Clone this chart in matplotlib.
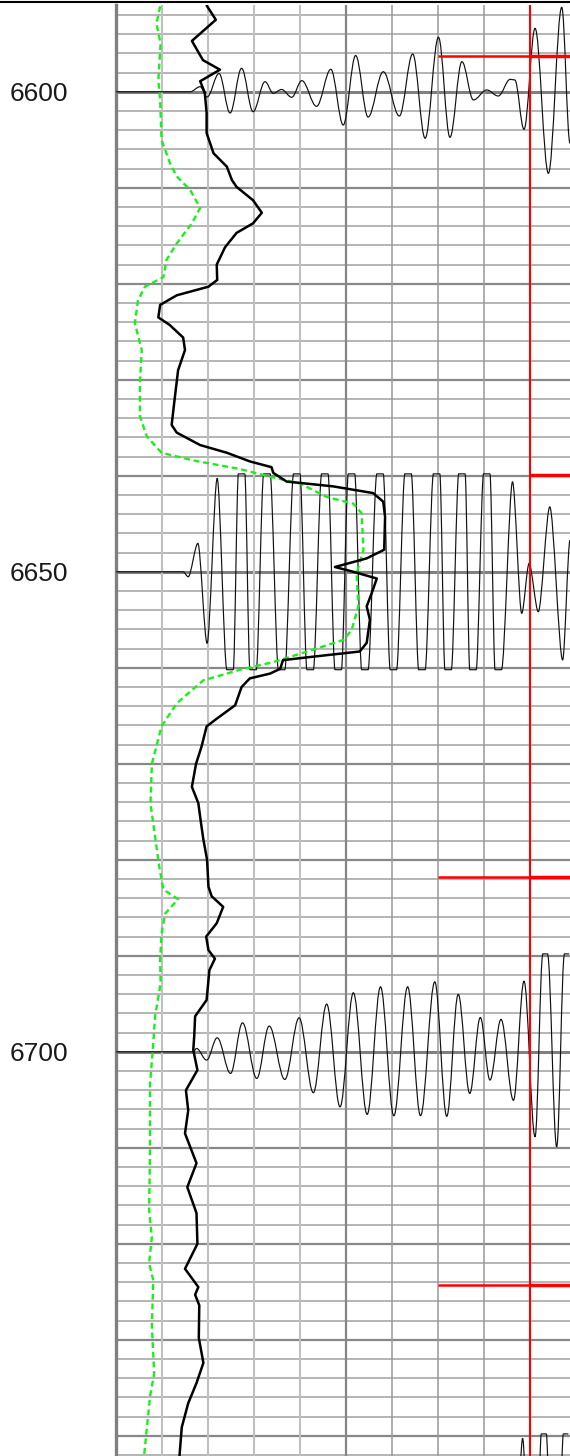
import numpy as np
import matplotlib
matplotlib.use("Agg")
import matplotlib.pyplot as plt
from matplotlib.path import Path
from matplotlib.patches import PathPatch
from matplotlib.lines import Line2D
import matplotlib.transforms as mtransforms

# ---------------- data ----------------
# thick black log curve (depth, value in track divisions)
black_depth = [6591.0, 6592.5, 6594.7, 6596.7, 6597.7, 6598.9, 6600.1, 6602.2, 6604.3, 6606.4,
               6607.8, 6609.2, 6609.9, 6611.3, 6612.6, 6613.7, 6614.7, 6616.2, 6618.0, 6619.6,
               6620.3, 6621.2, 6622.2, 6623.5, 6624.3, 6625.6, 6626.9, 6629.0, 6631.8, 6634.7,
               6635.5, 6636.8, 6637.6, 6638.5, 6639.1, 6639.7, 6640.6, 6641.1, 6641.8, 6642.7,
               6644.3, 6647.7, 6648.6, 6649.5, 6650.0, 6650.7, 6652.2, 6653.6, 6655.0, 6657.4,
               6658.3, 6658.8, 6659.2, 6660.1, 6660.6, 6661.1, 6662.0, 6663.9, 6665.3, 6666.1,
               6668.2, 6670.0, 6672.4, 6674.1, 6675.9, 6677.9, 6680.0, 6682.8, 6683.8, 6684.9,
               6686.6, 6688.0, 6689.4, 6690.3, 6691.5, 6694.6, 6696.3, 6698.4, 6699.8, 6701.9,
               6704.0, 6706.1, 6708.5, 6711.6, 6714.1, 6716.8, 6720.0, 6722.6, 6724.5, 6725.3,
               6726.4, 6729.8, 6732.4, 6734.5, 6736.6, 6739.1, 6742.1]
black_value = [1.97, 2.17, 1.65, 1.89, 2.26, 1.83, 1.93, 1.97, 1.97, 2.12,
               2.41, 2.52, 2.62, 2.98, 3.17, 2.98, 2.62, 2.37, 2.19, 2.20,
               2.01, 1.32, 0.96, 0.92, 1.17, 1.46, 1.50, 1.35, 1.28, 1.21,
               1.32, 1.83, 2.41, 2.91, 3.38, 3.42, 3.71, 4.72, 5.59, 5.81,
               5.85, 5.83, 5.45, 4.76, 5.16, 5.67, 5.56, 5.45, 5.52, 5.45,
               5.30, 4.36, 3.63, 3.57, 3.35, 2.91, 2.73, 2.59, 2.19, 1.97,
               1.86, 1.74, 1.65, 1.79, 1.84, 1.90, 1.98, 2.01, 2.08, 2.33,
               2.19, 1.96, 2.01, 2.15, 2.03, 1.97, 1.72, 1.70, 1.68, 1.77,
               1.52, 1.57, 1.50, 1.75, 1.55, 1.75, 1.77, 1.50, 1.79, 1.72,
               1.81, 1.80, 1.90, 1.75, 1.57, 1.43, 1.38]

# dashed green log curve
green_depth = [6591.1, 6592.9, 6595.0, 6598.8, 6600.9, 6605.0, 6607.4, 6608.8, 6609.5, 6610.2,
               6612.1, 6613.7, 6615.8, 6617.5, 6619.3, 6620.3, 6621.7, 6624.1, 6626.9, 6630.4,
               6633.8, 6635.9, 6637.6, 6638.4, 6639.3, 6640.1, 6640.8, 6642.2, 6642.9, 6643.9,
               6647.7, 6650.2, 6653.6, 6656.1, 6657.1, 6658.1, 6659.4, 6660.2, 6661.3, 6663.7,
               6666.1, 6670.0, 6674.1, 6677.6, 6680.7, 6683.1, 6684.1, 6685.6, 6687.7, 6690.4,
               6692.9, 6696.3, 6699.8, 6703.3, 6710.2, 6716.5, 6719.3, 6722.0, 6723.8, 6728.6,
               6733.5, 6735.9, 6742.1]
green_value = [0.96, 0.88, 0.97, 0.92, 0.96, 0.99, 1.17, 1.32, 1.46, 1.61,
               1.83, 1.65, 1.32, 1.10, 1.03, 0.63, 0.48, 0.41, 0.56, 0.52,
               0.52, 0.67, 0.99, 1.68, 2.70, 3.35, 4.00, 4.58, 5.16, 5.34,
               5.38, 5.23, 5.27, 5.12, 4.94, 4.29, 3.42, 2.70, 1.90, 1.32,
               0.99, 0.78, 0.75, 0.85, 0.94, 1.03, 1.35, 1.07, 0.99, 0.96,
               0.97, 0.85, 0.80, 0.74, 0.74, 0.72, 0.78, 0.72, 0.81, 0.78,
               0.83, 0.74, 0.61]

# wiggle traces: extremum positions (track divisions) and amplitudes (depth units, + = up)
trace_6600_x = [0.00, 1.61, 1.83, 1.98, 2.24, 2.48, 2.73, 2.98, 3.24, 3.42,
                3.60, 3.82, 4.04, 4.36, 4.67, 4.94, 5.21, 5.48, 5.81, 6.16,
                6.45, 6.72, 7.01, 7.26, 7.52, 7.77, 8.06, 8.31, 8.57, 8.67,
                8.87, 9.11, 9.40, 9.69, 9.87]
trace_6600_amp = [0, 0, 0.53, -0.54, 1.9, -2.21, 2.45, -2.07, 1.05, -0.16,
                  0.24, -0.57, 1.16, -1.51, 2.34, -3.46, 3.78, -2.63, 2.09, -2.52,
                  3.94, -4.84, 5.68, -4.74, 3.14, -0.85, 0.19, -0.44, 1.30, 1.23,
                  -3.91, 6.61, -8.49, 8.80, -5.36]

trace_6650_x = [0.00, 1.46, 1.57, 1.78, 1.98, 2.20, 2.48, 2.73, 2.98, 3.28,
                3.60, 3.93, 4.22, 4.54, 4.83, 5.12, 5.41, 5.74, 6.03, 6.35,
                6.65, 6.97, 7.22, 7.52, 7.76, 8.06, 8.31, 8.62, 8.82, 8.98,
                9.18, 9.43, 9.71, 9.87]
trace_6650_amp = [0, 0, -0.52, 2.96, -7.45, 9.73, -10.2, 10.2, -10.2, 10.2,
                  -10.2, 10.2, -10.2, 10.2, -10.2, 10.2, -10.2, 10.2, -10.2, 10.2,
                  -10.2, 10.2, -10.2, 10.2, -10.2, 10.2, -10.2, 9.38, -4.33, 0.87,
                  -4.16, 6.77, -9.19, 3.3]

trace_6700_x = [0.00, 1.68, 1.75, 1.97, 2.20, 2.49, 2.75, 3.06, 3.33, 3.67,
                3.98, 4.29, 4.58, 4.87, 5.16, 5.46, 5.75, 6.04, 6.34, 6.62,
                6.93, 7.19, 7.44, 7.69, 7.92, 8.13, 8.37, 8.64, 8.87, 9.11,
                9.33, 9.58, 9.80]
trace_6700_amp = [0, 0, 0.35, -0.86, 1.46, -2.25, 3.02, -2.77, 2.68, -2.88,
                  3.54, -4.26, 4.97, -5.73, 6.15, -6.52, 6.77, -6.66, 6.77, -6.65,
                  7.29, -6.72, 5.99, -4.33, 3.58, -2.94, 3.38, -5.05, 7.36, -8.85,
                  10.2, -9.9, 10.2]

trace_6750_x = [0.00, 8.59, 8.84, 9.07, 9.30, 9.54, 9.78]
trace_6750_amp = [0, -10.2, 9.73, -10.2, 10.2, -10.2, 10.2]

trace_depths = [6600, 6650, 6700, 6750]
clip_level = 10.2

red_vertical_x = 9.0
red_marker_depths = [6596.3, 6639.9, 6681.8, 6724.3]
red_marker_starts = [7.0, 9.0, 7.0, 7.0]

depth_labels = [6600, 6650, 6700]

# ---------------- figure ----------------
W, H = 570, 1456
fig = plt.figure(figsize=(W / 100, H / 100), dpi=100)
fig.patch.set_facecolor("white")
ax = fig.add_axes([116 / W, 0, 454 / W, 1451 / H])
xmax = 454 / 46
ax.set_xlim(0, xmax)
ax.set_ylim(6742.1, 6590.96)
for s in ax.spines.values():
    s.set_visible(False)
ax.set_xticks([])
ax.set_yticks([])

# horizontal grid
for d in range(6592, 6743, 2):
    if d % 50 == 0:
        ax.axhline(d, color="#808080", lw=2.2, zorder=1)
    elif d % 10 == 0:
        ax.axhline(d, color="#888888", lw=1.6, zorder=1)
    else:
        ax.axhline(d, color="#a0a0a0", lw=1.1, zorder=1)

# vertical grid
for i in range(0, 10):
    if i == 0:
        ax.axvline(i, color="#808080", lw=2.4, zorder=1.2, clip_on=False)
    elif i <= 4:
        ax.axvline(i, color="#c0c0c0", lw=1.5, zorder=1.2)
    elif i == 5:
        ax.axvline(i, color="#858585", lw=1.6, zorder=1.2)
    else:
        ax.axvline(i, color="#999999", lw=1.1, zorder=1.2)


def wiggle(xs, amps, base, k, flat):
    pts = []
    for x, a in zip(xs, amps):
        if abs(a) >= clip_level and flat > 0:
            pts.append((x - flat, a))
            pts.append((min(x + flat, xmax), a))
        else:
            pts.append((x, a))
    verts = [(pts[0][0], base - pts[0][1])]
    codes = [Path.MOVETO]
    for (x0, a0), (x1, a1) in zip(pts[:-1], pts[1:]):
        dx = x1 - x0
        if a0 == a1:
            verts.append((x1, base - a1))
            codes.append(Path.LINETO)
        else:
            verts += [(x0 + k * dx, base - a0), (x1 - k * dx, base - a1), (x1, base - a1)]
            codes += [Path.CURVE4] * 3
    return PathPatch(Path(verts, codes), fill=False, edgecolor="#111111", lw=0.85, zorder=3)


ax.add_patch(wiggle(trace_6600_x, trace_6600_amp, trace_depths[0], 0.36, 0.05))
ax.add_patch(wiggle(trace_6650_x, trace_6650_amp, trace_depths[1], 0.30, 0.07))
ax.add_patch(wiggle(trace_6700_x, trace_6700_amp, trace_depths[2], 0.36, 0.05))
ax.add_patch(wiggle(trace_6750_x, trace_6750_amp, trace_depths[3], 0.33, 0.055))

# logs
ax.plot(green_value, green_depth, color="#19f019", lw=1.7, ls=(0, (2.5, 1.6)), zorder=4)
ax.plot(black_value, black_depth, color="black", lw=1.8, zorder=5,
        solid_joinstyle="round", solid_capstyle="round")

# red markers
ax.axvline(red_vertical_x, color="#ff0000", lw=1.5, zorder=6)
for d, s in zip(red_marker_depths, red_marker_starts):
    if s < red_vertical_x:
        ax.plot([s, red_vertical_x], [d, d], color="#ff0000", lw=1.8, zorder=6,
                solid_capstyle="butt")
    ax.plot([red_vertical_x, xmax], [d, d], color="#ff0000", lw=2.5, zorder=6,
            solid_capstyle="butt")

# depth labels
trans = mtransforms.blended_transform_factory(fig.transFigure, ax.transData)
for d in depth_labels:
    ax.text(68 / W, d, str(d), transform=trans, ha="right", va="center_baseline",
            fontsize=19, family=["Liberation Sans", "DejaVu Sans"], color="#1a1a1a",
            clip_on=False)

# top border line
fig.add_artist(Line2D([0, 1], [1 - 2 / H, 1 - 2 / H], transform=fig.transFigure,
                      color="black", lw=1.5))

fig.savefig("out.png", dpi=100)
